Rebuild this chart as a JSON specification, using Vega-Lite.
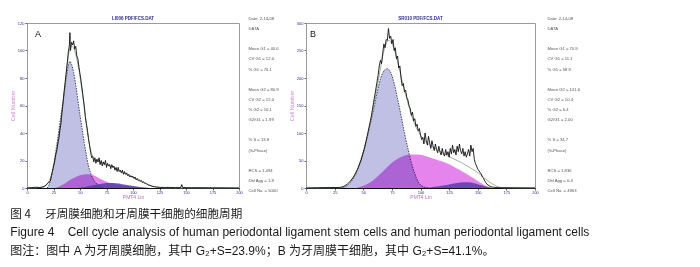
{
"$schema": "https://vega.github.io/schema/vega-lite/v6.json",
"background": "white",
"padding": {"left": 10, "top": 15, "right": 0, "bottom": 0},
"title": {
  "text": "图 4　 牙周膜细胞和牙周膜干细胞的细胞周期",
  "subtitle": ["Figure 4\u00a0\u00a0\u00a0\u00a0Cell cycle analysis of human periodontal ligament stem cells and human periodontal ligament cells", "图注：图中 A 为牙周膜细胞，其中 G₂+S=23.9%；B 为牙周膜干细胞，其中 G₂+S=41.1%。"],
  "orient": "bottom", "anchor": "start", "frame": "bounds", "offset": 9,
  "font": "Noto Sans CJK SC", "fontSize": 11.6, "fontWeight": "normal", "color": "#1a1a1a", "lineHeight": 18,
  "subtitleFont": "Liberation Sans, Noto Sans CJK SC", "subtitleFontSize": 12, "subtitleColor": "#1a1a1a", "subtitleLineHeight": 19, "subtitlePadding": 7
},
"config": {
  "font": "Liberation Sans",
  "view": {"stroke": "#9a9a9a", "strokeWidth": 1},
  "axis": {"grid": false, "tickSize": 2, "tickColor": "#2b2b8c", "tickWidth": 0.8, "labelFontSize": 4, "labelColor": "#2b2b8c", "labelFont": "Liberation Sans", "titleFont": "Liberation Sans", "titleFontWeight": "normal", "labelPadding": 1},
  "axisX": {"domainColor": "#111111", "domainWidth": 1, "labelPadding": 0, "titlePadding": 0, "titleFontSize": 5, "titleColor": "#b36fc9", "labelFlush": false},
  "axisY": {"domainColor": "#9a9a9a", "titlePadding": 1.5, "titleFontSize": 5.5, "titleColor": "#d585d5"}
},
"datasets": {
  "histA": [
    {"channel": 19, "count": 0, "series": "G1"}, {"channel": 22, "count": 5, "series": "G1"}, {"channel": 25, "count": 16, "series": "G1"}, {"channel": 28, "count": 31, "series": "G1"}, {"channel": 31, "count": 47, "series": "G1"}, {"channel": 34, "count": 63, "series": "G1"}, {"channel": 37, "count": 80, "series": "G1"}, {"channel": 39, "count": 89, "series": "G1"}, {"channel": 40.5, "count": 92, "series": "G1"}, {"channel": 42, "count": 90, "series": "G1"}, {"channel": 44, "count": 84, "series": "G1"}, {"channel": 46, "count": 75, "series": "G1"}, {"channel": 48, "count": 64, "series": "G1"}, {"channel": 50, "count": 53, "series": "G1"}, {"channel": 52, "count": 43, "series": "G1"}, {"channel": 54, "count": 33, "series": "G1"}, {"channel": 56, "count": 24, "series": "G1"}, {"channel": 58, "count": 16, "series": "G1"}, {"channel": 60, "count": 11, "series": "G1"}, {"channel": 62, "count": 7, "series": "G1"}, {"channel": 64, "count": 4.5, "series": "G1"}, {"channel": 66, "count": 3, "series": "G1"}, {"channel": 69, "count": 1, "series": "G1"}, {"channel": 72, "count": 0, "series": "G1"},
    {"channel": 26, "count": 0, "series": "S"}, {"channel": 30, "count": 1, "series": "S"}, {"channel": 34, "count": 2.5, "series": "S"}, {"channel": 38, "count": 4.5, "series": "S"}, {"channel": 42, "count": 6.5, "series": "S"}, {"channel": 46, "count": 8, "series": "S"}, {"channel": 50, "count": 9.2, "series": "S"}, {"channel": 54, "count": 9.8, "series": "S"}, {"channel": 58, "count": 10, "series": "S"}, {"channel": 62, "count": 9.4, "series": "S"}, {"channel": 66, "count": 8, "series": "S"}, {"channel": 70, "count": 6.3, "series": "S"}, {"channel": 75, "count": 4.6, "series": "S"}, {"channel": 80, "count": 3.4, "series": "S"}, {"channel": 85, "count": 2.6, "series": "S"}, {"channel": 90, "count": 2, "series": "S"}, {"channel": 95, "count": 1.5, "series": "S"}, {"channel": 100, "count": 1, "series": "S"}, {"channel": 106, "count": 0.6, "series": "S"}, {"channel": 112, "count": 0.2, "series": "S"}, {"channel": 116, "count": 0, "series": "S"},
    {"channel": 48, "count": 0, "series": "G2"}, {"channel": 55, "count": 0.8, "series": "G2"}, {"channel": 60, "count": 1.6, "series": "G2"}, {"channel": 66, "count": 2.6, "series": "G2"}, {"channel": 72, "count": 3.3, "series": "G2"}, {"channel": 78, "count": 3.6, "series": "G2"}, {"channel": 84, "count": 3.4, "series": "G2"}, {"channel": 90, "count": 2.8, "series": "G2"}, {"channel": 96, "count": 2, "series": "G2"}, {"channel": 102, "count": 1.2, "series": "G2"}, {"channel": 108, "count": 0.6, "series": "G2"}, {"channel": 114, "count": 0.2, "series": "G2"}, {"channel": 118, "count": 0, "series": "G2"},
    {"channel": 0, "count": 0, "series": "Fit"}, {"channel": 15, "count": 0.5, "series": "Fit"}, {"channel": 20, "count": 4, "series": "Fit"}, {"channel": 25, "count": 15, "series": "Fit"}, {"channel": 30, "count": 36, "series": "Fit"}, {"channel": 35, "count": 68, "series": "Fit"}, {"channel": 38, "count": 90, "series": "Fit"}, {"channel": 40, "count": 100, "series": "Fit"}, {"channel": 42, "count": 103, "series": "Fit"}, {"channel": 44, "count": 102, "series": "Fit"}, {"channel": 46, "count": 97, "series": "Fit"}, {"channel": 48, "count": 90, "series": "Fit"}, {"channel": 50, "count": 81, "series": "Fit"}, {"channel": 52, "count": 70, "series": "Fit"}, {"channel": 54, "count": 58, "series": "Fit"}, {"channel": 56, "count": 46, "series": "Fit"}, {"channel": 58, "count": 36, "series": "Fit"}, {"channel": 60, "count": 28, "series": "Fit"}, {"channel": 62, "count": 23, "series": "Fit"}, {"channel": 65, "count": 20, "series": "Fit"}, {"channel": 70, "count": 18.5, "series": "Fit"}, {"channel": 75, "count": 17, "series": "Fit"}, {"channel": 80, "count": 15.5, "series": "Fit"}, {"channel": 85, "count": 13.5, "series": "Fit"}, {"channel": 90, "count": 11.5, "series": "Fit"}, {"channel": 95, "count": 9.5, "series": "Fit"}, {"channel": 100, "count": 7.5, "series": "Fit"}, {"channel": 105, "count": 5.5, "series": "Fit"}, {"channel": 110, "count": 3.8, "series": "Fit"}, {"channel": 115, "count": 2.2, "series": "Fit"}, {"channel": 120, "count": 1, "series": "Fit"}, {"channel": 125, "count": 0.4, "series": "Fit"}, {"channel": 130, "count": 0.1, "series": "Fit"}, {"channel": 200, "count": 0, "series": "Fit"},
    {"channel": 0, "count": 0, "series": "Data"}, {"channel": 4, "count": 0.3, "series": "Data"}, {"channel": 8, "count": 0.5, "series": "Data"}, {"channel": 12, "count": 0.4, "series": "Data"}, {"channel": 15, "count": 0.8, "series": "Data"}, {"channel": 17, "count": 1.5, "series": "Data"}, {"channel": 19, "count": 3, "series": "Data"}, {"channel": 21, "count": 4.5, "series": "Data"}, {"channel": 22, "count": 5, "series": "Data"}, {"channel": 23, "count": 9, "series": "Data"}, {"channel": 24, "count": 12, "series": "Data"}, {"channel": 25, "count": 16, "series": "Data"}, {"channel": 26, "count": 19, "series": "Data"}, {"channel": 27, "count": 24, "series": "Data"}, {"channel": 28, "count": 27, "series": "Data"}, {"channel": 29, "count": 32, "series": "Data"}, {"channel": 30, "count": 36, "series": "Data"}, {"channel": 31, "count": 42, "series": "Data"}, {"channel": 32, "count": 47, "series": "Data"}, {"channel": 33, "count": 55, "series": "Data"}, {"channel": 34, "count": 62, "series": "Data"}, {"channel": 35, "count": 70, "series": "Data"}, {"channel": 36, "count": 77, "series": "Data"}, {"channel": 37, "count": 84, "series": "Data"}, {"channel": 38, "count": 91, "series": "Data"}, {"channel": 39, "count": 99, "series": "Data"}, {"channel": 40, "count": 104, "series": "Data"}, {"channel": 40.5, "count": 113, "series": "Data"}, {"channel": 41, "count": 100, "series": "Data"}, {"channel": 42, "count": 106, "series": "Data"}, {"channel": 43, "count": 104, "series": "Data"}, {"channel": 44, "count": 107, "series": "Data"}, {"channel": 45, "count": 101, "series": "Data"}, {"channel": 46, "count": 103, "series": "Data"}, {"channel": 47, "count": 96, "series": "Data"}, {"channel": 48, "count": 94, "series": "Data"}, {"channel": 49, "count": 88, "series": "Data"}, {"channel": 50, "count": 83, "series": "Data"}, {"channel": 51, "count": 78, "series": "Data"}, {"channel": 52, "count": 72, "series": "Data"}, {"channel": 53, "count": 66, "series": "Data"}, {"channel": 54, "count": 60, "series": "Data"}, {"channel": 55, "count": 52, "series": "Data"}, {"channel": 56, "count": 47, "series": "Data"}, {"channel": 57, "count": 42, "series": "Data"}, {"channel": 58, "count": 36, "series": "Data"}, {"channel": 59, "count": 31, "series": "Data"}, {"channel": 60, "count": 26, "series": "Data"}, {"channel": 61, "count": 22, "series": "Data"}, {"channel": 62, "count": 23, "series": "Data"}, {"channel": 63, "count": 19, "series": "Data"}, {"channel": 64, "count": 22, "series": "Data"}, {"channel": 65, "count": 18, "series": "Data"}, {"channel": 66, "count": 21, "series": "Data"}, {"channel": 67, "count": 19, "series": "Data"}, {"channel": 68, "count": 22, "series": "Data"}, {"channel": 69, "count": 17, "series": "Data"}, {"channel": 70, "count": 20, "series": "Data"}, {"channel": 71, "count": 16, "series": "Data"}, {"channel": 72, "count": 19, "series": "Data"}, {"channel": 73, "count": 17, "series": "Data"}, {"channel": 74, "count": 20, "series": "Data"}, {"channel": 75, "count": 15, "series": "Data"}, {"channel": 76, "count": 18, "series": "Data"}, {"channel": 77, "count": 16, "series": "Data"}, {"channel": 78, "count": 17, "series": "Data"}, {"channel": 79, "count": 14, "series": "Data"}, {"channel": 80, "count": 17, "series": "Data"}, {"channel": 81, "count": 15, "series": "Data"}, {"channel": 82, "count": 16, "series": "Data"}, {"channel": 83, "count": 13, "series": "Data"}, {"channel": 84, "count": 15, "series": "Data"}, {"channel": 85, "count": 12, "series": "Data"}, {"channel": 86, "count": 15, "series": "Data"}, {"channel": 87, "count": 12, "series": "Data"}, {"channel": 88, "count": 13, "series": "Data"}, {"channel": 89, "count": 11, "series": "Data"}, {"channel": 90, "count": 13, "series": "Data"}, {"channel": 91, "count": 10, "series": "Data"}, {"channel": 92, "count": 12, "series": "Data"}, {"channel": 93, "count": 10, "series": "Data"}, {"channel": 94, "count": 11, "series": "Data"}, {"channel": 95, "count": 9, "series": "Data"}, {"channel": 96, "count": 10, "series": "Data"}, {"channel": 97, "count": 8, "series": "Data"}, {"channel": 98, "count": 9, "series": "Data"}, {"channel": 99, "count": 8, "series": "Data"}, {"channel": 100, "count": 8.5, "series": "Data"}, {"channel": 101, "count": 7, "series": "Data"}, {"channel": 102, "count": 8, "series": "Data"}, {"channel": 103, "count": 6, "series": "Data"}, {"channel": 104, "count": 7, "series": "Data"}, {"channel": 105, "count": 5.5, "series": "Data"}, {"channel": 106, "count": 6, "series": "Data"}, {"channel": 107, "count": 5, "series": "Data"}, {"channel": 108, "count": 5.5, "series": "Data"}, {"channel": 109, "count": 4, "series": "Data"}, {"channel": 110, "count": 4.5, "series": "Data"}, {"channel": 111, "count": 3.5, "series": "Data"}, {"channel": 112, "count": 3.5, "series": "Data"}, {"channel": 113, "count": 3, "series": "Data"}, {"channel": 114, "count": 2.5, "series": "Data"}, {"channel": 115, "count": 2, "series": "Data"}, {"channel": 116, "count": 2, "series": "Data"}, {"channel": 117, "count": 1.5, "series": "Data"}, {"channel": 118, "count": 1.3, "series": "Data"}, {"channel": 119, "count": 1, "series": "Data"}, {"channel": 120, "count": 1, "series": "Data"}, {"channel": 122, "count": 0.7, "series": "Data"}, {"channel": 125, "count": 0.5, "series": "Data"}, {"channel": 130, "count": 0.4, "series": "Data"}, {"channel": 135, "count": 0.4, "series": "Data"}, {"channel": 140, "count": 0.3, "series": "Data"}, {"channel": 145, "count": 0.3, "series": "Data"}, {"channel": 146, "count": 2.5, "series": "Data"}, {"channel": 147, "count": 0.3, "series": "Data"}, {"channel": 155, "count": 0.2, "series": "Data"}, {"channel": 165, "count": 0.2, "series": "Data"}, {"channel": 175, "count": 0.1, "series": "Data"}, {"channel": 185, "count": 0.1, "series": "Data"}, {"channel": 200, "count": 0, "series": "Data"}
  ],
  "histB": [
    {"channel": 30, "count": 0, "series": "G1"}, {"channel": 35, "count": 3, "series": "G1"}, {"channel": 38, "count": 8, "series": "G1"}, {"channel": 41, "count": 16, "series": "G1"}, {"channel": 44, "count": 28, "series": "G1"}, {"channel": 47, "count": 46, "series": "G1"}, {"channel": 50, "count": 66, "series": "G1"}, {"channel": 53, "count": 89, "series": "G1"}, {"channel": 56, "count": 115, "series": "G1"}, {"channel": 59, "count": 143, "series": "G1"}, {"channel": 62, "count": 172, "series": "G1"}, {"channel": 65, "count": 198, "series": "G1"}, {"channel": 68, "count": 213, "series": "G1"}, {"channel": 71, "count": 217, "series": "G1"}, {"channel": 74, "count": 210, "series": "G1"}, {"channel": 77, "count": 190, "series": "G1"}, {"channel": 80, "count": 162, "series": "G1"}, {"channel": 83, "count": 132, "series": "G1"}, {"channel": 86, "count": 100, "series": "G1"}, {"channel": 89, "count": 72, "series": "G1"}, {"channel": 92, "count": 46, "series": "G1"}, {"channel": 95, "count": 26, "series": "G1"}, {"channel": 98, "count": 11, "series": "G1"}, {"channel": 101, "count": 4, "series": "G1"}, {"channel": 104, "count": 1, "series": "G1"}, {"channel": 107, "count": 0, "series": "G1"},
    {"channel": 44, "count": 0, "series": "S"}, {"channel": 50, "count": 4, "series": "S"}, {"channel": 56, "count": 10, "series": "S"}, {"channel": 62, "count": 20, "series": "S"}, {"channel": 68, "count": 32, "series": "S"}, {"channel": 74, "count": 44, "series": "S"}, {"channel": 80, "count": 53, "series": "S"}, {"channel": 86, "count": 59, "series": "S"}, {"channel": 92, "count": 61, "series": "S"}, {"channel": 98, "count": 61, "series": "S"}, {"channel": 104, "count": 58, "series": "S"}, {"channel": 110, "count": 54, "series": "S"}, {"channel": 116, "count": 50, "series": "S"}, {"channel": 122, "count": 46, "series": "S"}, {"channel": 128, "count": 40, "series": "S"}, {"channel": 134, "count": 33, "series": "S"}, {"channel": 140, "count": 26, "series": "S"}, {"channel": 146, "count": 18, "series": "S"}, {"channel": 152, "count": 10, "series": "S"}, {"channel": 156, "count": 5, "series": "S"}, {"channel": 160, "count": 1.5, "series": "S"}, {"channel": 164, "count": 0, "series": "S"},
    {"channel": 100, "count": 0, "series": "G2"}, {"channel": 108, "count": 1, "series": "G2"}, {"channel": 116, "count": 3, "series": "G2"}, {"channel": 124, "count": 6, "series": "G2"}, {"channel": 132, "count": 9, "series": "G2"}, {"channel": 138, "count": 10.5, "series": "G2"}, {"channel": 144, "count": 10, "series": "G2"}, {"channel": 150, "count": 7, "series": "G2"}, {"channel": 156, "count": 3, "series": "G2"}, {"channel": 162, "count": 0.5, "series": "G2"}, {"channel": 166, "count": 0, "series": "G2"},
    {"channel": 0, "count": 0, "series": "Fit"}, {"channel": 30, "count": 0.5, "series": "Fit"}, {"channel": 35, "count": 3, "series": "Fit"}, {"channel": 40, "count": 14, "series": "Fit"}, {"channel": 45, "count": 34, "series": "Fit"}, {"channel": 50, "count": 62, "series": "Fit"}, {"channel": 55, "count": 105, "series": "Fit"}, {"channel": 60, "count": 158, "series": "Fit"}, {"channel": 64, "count": 205, "series": "Fit"}, {"channel": 67, "count": 240, "series": "Fit"}, {"channel": 70, "count": 262, "series": "Fit"}, {"channel": 72, "count": 268, "series": "Fit"}, {"channel": 74, "count": 266, "series": "Fit"}, {"channel": 77, "count": 252, "series": "Fit"}, {"channel": 80, "count": 230, "series": "Fit"}, {"channel": 83, "count": 204, "series": "Fit"}, {"channel": 86, "count": 178, "series": "Fit"}, {"channel": 89, "count": 154, "series": "Fit"}, {"channel": 92, "count": 133, "series": "Fit"}, {"channel": 95, "count": 116, "series": "Fit"}, {"channel": 98, "count": 103, "series": "Fit"}, {"channel": 101, "count": 93, "series": "Fit"}, {"channel": 104, "count": 86, "series": "Fit"}, {"channel": 108, "count": 78, "series": "Fit"}, {"channel": 112, "count": 73, "series": "Fit"}, {"channel": 116, "count": 68, "series": "Fit"}, {"channel": 120, "count": 63, "series": "Fit"}, {"channel": 124, "count": 58, "series": "Fit"}, {"channel": 128, "count": 54, "series": "Fit"}, {"channel": 132, "count": 50, "series": "Fit"}, {"channel": 136, "count": 46, "series": "Fit"}, {"channel": 140, "count": 41, "series": "Fit"}, {"channel": 144, "count": 36, "series": "Fit"}, {"channel": 148, "count": 31, "series": "Fit"}, {"channel": 152, "count": 25, "series": "Fit"}, {"channel": 156, "count": 18, "series": "Fit"}, {"channel": 160, "count": 11, "series": "Fit"}, {"channel": 164, "count": 6, "series": "Fit"}, {"channel": 168, "count": 2, "series": "Fit"}, {"channel": 172, "count": 0.5, "series": "Fit"}, {"channel": 200, "count": 0, "series": "Fit"},
    {"channel": 0, "count": 0, "series": "Data"}, {"channel": 10, "count": 0.5, "series": "Data"}, {"channel": 20, "count": 0.8, "series": "Data"}, {"channel": 30, "count": 1, "series": "Data"}, {"channel": 33, "count": 3, "series": "Data"}, {"channel": 36, "count": 7, "series": "Data"}, {"channel": 39, "count": 13, "series": "Data"}, {"channel": 42, "count": 22, "series": "Data"}, {"channel": 45, "count": 34, "series": "Data"}, {"channel": 48, "count": 50, "series": "Data"}, {"channel": 51, "count": 72, "series": "Data"}, {"channel": 54, "count": 100, "series": "Data"}, {"channel": 57, "count": 130, "series": "Data"}, {"channel": 59, "count": 155, "series": "Data"}, {"channel": 61, "count": 180, "series": "Data"}, {"channel": 63, "count": 205, "series": "Data"}, {"channel": 64, "count": 222, "series": "Data"}, {"channel": 65, "count": 232, "series": "Data"}, {"channel": 66, "count": 226, "series": "Data"}, {"channel": 67, "count": 245, "series": "Data"}, {"channel": 68, "count": 262, "series": "Data"}, {"channel": 69, "count": 255, "series": "Data"}, {"channel": 70, "count": 270, "series": "Data"}, {"channel": 71, "count": 268, "series": "Data"}, {"channel": 72, "count": 290, "series": "Data"}, {"channel": 73, "count": 272, "series": "Data"}, {"channel": 74, "count": 276, "series": "Data"}, {"channel": 75, "count": 262, "series": "Data"}, {"channel": 76, "count": 270, "series": "Data"}, {"channel": 77, "count": 250, "series": "Data"}, {"channel": 78, "count": 255, "series": "Data"}, {"channel": 79, "count": 235, "series": "Data"}, {"channel": 80, "count": 240, "series": "Data"}, {"channel": 81, "count": 218, "series": "Data"}, {"channel": 82, "count": 222, "series": "Data"}, {"channel": 83, "count": 200, "series": "Data"}, {"channel": 84, "count": 186, "series": "Data"}, {"channel": 85, "count": 190, "series": "Data"}, {"channel": 86, "count": 175, "series": "Data"}, {"channel": 87, "count": 178, "series": "Data"}, {"channel": 88, "count": 165, "series": "Data"}, {"channel": 89, "count": 160, "series": "Data"}, {"channel": 90, "count": 150, "series": "Data"}, {"channel": 91, "count": 145, "series": "Data"}, {"channel": 92, "count": 132, "series": "Data"}, {"channel": 93, "count": 138, "series": "Data"}, {"channel": 94, "count": 122, "series": "Data"}, {"channel": 95, "count": 126, "series": "Data"}, {"channel": 96, "count": 112, "series": "Data"}, {"channel": 97, "count": 116, "series": "Data"}, {"channel": 98, "count": 104, "series": "Data"}, {"channel": 99, "count": 108, "series": "Data"}, {"channel": 100, "count": 96, "series": "Data"}, {"channel": 101, "count": 88, "series": "Data"}, {"channel": 102, "count": 92, "series": "Data"}, {"channel": 103, "count": 80, "series": "Data"}, {"channel": 104, "count": 100, "series": "Data"}, {"channel": 105, "count": 86, "series": "Data"}, {"channel": 106, "count": 78, "series": "Data"}, {"channel": 107, "count": 94, "series": "Data"}, {"channel": 108, "count": 82, "series": "Data"}, {"channel": 109, "count": 72, "series": "Data"}, {"channel": 110, "count": 86, "series": "Data"}, {"channel": 111, "count": 76, "series": "Data"}, {"channel": 112, "count": 68, "series": "Data"}, {"channel": 113, "count": 80, "series": "Data"}, {"channel": 114, "count": 70, "series": "Data"}, {"channel": 115, "count": 64, "series": "Data"}, {"channel": 116, "count": 76, "series": "Data"}, {"channel": 117, "count": 66, "series": "Data"}, {"channel": 118, "count": 60, "series": "Data"}, {"channel": 119, "count": 72, "series": "Data"}, {"channel": 120, "count": 62, "series": "Data"}, {"channel": 121, "count": 58, "series": "Data"}, {"channel": 122, "count": 70, "series": "Data"}, {"channel": 123, "count": 60, "series": "Data"}, {"channel": 124, "count": 66, "series": "Data"}, {"channel": 125, "count": 56, "series": "Data"}, {"channel": 126, "count": 72, "series": "Data"}, {"channel": 127, "count": 62, "series": "Data"}, {"channel": 128, "count": 78, "series": "Data"}, {"channel": 129, "count": 64, "series": "Data"}, {"channel": 130, "count": 70, "series": "Data"}, {"channel": 131, "count": 60, "series": "Data"}, {"channel": 132, "count": 76, "series": "Data"}, {"channel": 133, "count": 66, "series": "Data"}, {"channel": 134, "count": 80, "series": "Data"}, {"channel": 135, "count": 68, "series": "Data"}, {"channel": 136, "count": 62, "series": "Data"}, {"channel": 137, "count": 72, "series": "Data"}, {"channel": 138, "count": 58, "series": "Data"}, {"channel": 139, "count": 66, "series": "Data"}, {"channel": 140, "count": 56, "series": "Data"}, {"channel": 141, "count": 62, "series": "Data"}, {"channel": 142, "count": 70, "series": "Data"}, {"channel": 143, "count": 58, "series": "Data"}, {"channel": 144, "count": 78, "series": "Data"}, {"channel": 145, "count": 66, "series": "Data"}, {"channel": 146, "count": 72, "series": "Data"}, {"channel": 147, "count": 52, "series": "Data"}, {"channel": 148, "count": 44, "series": "Data"}, {"channel": 149, "count": 40, "series": "Data"}, {"channel": 150, "count": 34, "series": "Data"}, {"channel": 151, "count": 32, "series": "Data"}, {"channel": 152, "count": 28, "series": "Data"}, {"channel": 153, "count": 26, "series": "Data"}, {"channel": 154, "count": 20, "series": "Data"}, {"channel": 155, "count": 18, "series": "Data"}, {"channel": 156, "count": 13, "series": "Data"}, {"channel": 157, "count": 10, "series": "Data"}, {"channel": 158, "count": 7, "series": "Data"}, {"channel": 160, "count": 4, "series": "Data"}, {"channel": 162, "count": 2, "series": "Data"}, {"channel": 165, "count": 1, "series": "Data"}, {"channel": 170, "count": 0.5, "series": "Data"}, {"channel": 180, "count": 0.3, "series": "Data"}, {"channel": 190, "count": 0.2, "series": "Data"}, {"channel": 200, "count": 0, "series": "Data"}
  ],
  "statsA": [
    {"line": 1, "text": "Date: 2-14-08"}, {"line": 2, "text": "   DATA"}, {"line": 3, "text": " "}, {"line": 4, "text": "Mean G1 = 40.6"}, {"line": 5, "text": "CV G1 = 12.0"}, {"line": 6, "text": "% G1 = 76.1"}, {"line": 7, "text": " "}, {"line": 8, "text": "Mean G2 = 80.9"}, {"line": 9, "text": "CV G2 = 12.0"}, {"line": 10, "text": "% G2 = 10.1"}, {"line": 11, "text": "G2/G1 = 1.99"}, {"line": 12, "text": " "}, {"line": 13, "text": "% S = 13.8"}, {"line": 14, "text": "(S-Phase)"}, {"line": 15, "text": " "}, {"line": 16, "text": "RCS = 1.494"}, {"line": 17, "text": "Dbl Agg = 1.8"}, {"line": 18, "text": "Cell No. = 5000"}
  ],
  "statsB": [
    {"line": 1, "text": "Date: 2-14-08"}, {"line": 2, "text": "   DATA"}, {"line": 3, "text": " "}, {"line": 4, "text": "Mean G1 = 70.9"}, {"line": 5, "text": "CV G1 = 11.1"}, {"line": 6, "text": "% G1 = 58.9"}, {"line": 7, "text": " "}, {"line": 8, "text": "Mean G2 = 141.6"}, {"line": 9, "text": "CV G2 = 10.4"}, {"line": 10, "text": "% G2 = 6.4"}, {"line": 11, "text": "G2/G1 = 2.00"}, {"line": 12, "text": " "}, {"line": 13, "text": "% S = 34.7"}, {"line": 14, "text": "(S-Phase)"}, {"line": 15, "text": " "}, {"line": 16, "text": "RCS = 1.836"}, {"line": 17, "text": "Dbl Agg = 0.4"}, {"line": 18, "text": "Cell No. = 4963"}
  ],
  "labelA": [{"label": "A"}],
  "labelB": [{"label": "B"}]
},
"hconcat": [
  {
    "hconcat": [
      {
        "width": 212, "height": 165,
        "title": {"text": "LI006 PDF/FCS.DAT", "fontSize": 4.5, "color": "#2b2b8c", "offset": 1, "fontWeight": "bold", "font": "Liberation Sans"},
        "layer": [
          {"data": {"name": "histA"}, "transform": [{"filter": "datum.series === 'G1'"}], "mark": {"type": "area", "color": "#a5a5d9", "interpolate": "monotone", "line": {"color": "#1a1a40", "strokeDash": [1.5, 1.2], "strokeWidth": 0.8}},
           "encoding": {"x": {"field": "channel", "type": "quantitative", "scale": {"domain": [0, 200], "nice": false}, "axis": {"values": [0, 25, 50, 75, 100, 125, 150, 175, 200], "title": "PMT4 Lin"}}, "y": {"field": "count", "type": "quantitative", "scale": {"domain": [0, 120], "nice": false}, "axis": {"values": [0, 20, 40, 60, 80, 100, 120], "title": "Cell Number"}}}},
          {"data": {"name": "histA"}, "transform": [{"filter": "datum.series === 'S'"}], "mark": {"type": "area", "color": "#e584ec", "interpolate": "monotone", "blend": "multiply"},
           "encoding": {"x": {"field": "channel", "type": "quantitative", "scale": {"domain": [0, 200], "nice": false}, "axis": {"values": [0, 25, 50, 75, 100, 125, 150, 175, 200], "title": "PMT4 Lin"}}, "y": {"field": "count", "type": "quantitative", "scale": {"domain": [0, 120], "nice": false}, "axis": {"values": [0, 20, 40, 60, 80, 100, 120], "title": "Cell Number"}}}},
          {"data": {"name": "histA"}, "transform": [{"filter": "datum.series === 'G2'"}], "mark": {"type": "area", "color": "#4a3aa8", "opacity": 0.8, "interpolate": "monotone"},
           "encoding": {"x": {"field": "channel", "type": "quantitative", "scale": {"domain": [0, 200], "nice": false}, "axis": {"values": [0, 25, 50, 75, 100, 125, 150, 175, 200], "title": "PMT4 Lin"}}, "y": {"field": "count", "type": "quantitative", "scale": {"domain": [0, 120], "nice": false}, "axis": {"values": [0, 20, 40, 60, 80, 100, 120], "title": "Cell Number"}}}},
          {"data": {"name": "histA"}, "transform": [{"filter": "datum.series === 'Fit'"}], "mark": {"type": "line", "color": "#86a086", "strokeWidth": 0.8, "interpolate": "monotone"},
           "encoding": {"x": {"field": "channel", "type": "quantitative", "scale": {"domain": [0, 200], "nice": false}, "axis": {"values": [0, 25, 50, 75, 100, 125, 150, 175, 200], "title": "PMT4 Lin"}}, "y": {"field": "count", "type": "quantitative", "scale": {"domain": [0, 120], "nice": false}, "axis": {"values": [0, 20, 40, 60, 80, 100, 120], "title": "Cell Number"}}}},
          {"data": {"name": "histA"}, "transform": [{"filter": "datum.series === 'Data'"}], "mark": {"type": "line", "color": "#111111", "strokeWidth": 0.9},
           "encoding": {"x": {"field": "channel", "type": "quantitative", "scale": {"domain": [0, 200], "nice": false}, "axis": {"values": [0, 25, 50, 75, 100, 125, 150, 175, 200], "title": "PMT4 Lin"}}, "y": {"field": "count", "type": "quantitative", "scale": {"domain": [0, 120], "nice": false}, "axis": {"values": [0, 20, 40, 60, 80, 100, 120], "title": "Cell Number"}}}},
          {"data": {"name": "labelA"}, "mark": {"type": "text", "align": "left", "baseline": "middle", "fontSize": 9, "color": "#111111", "font": "Liberation Sans"},
           "encoding": {"x": {"datum": 7.5, "type": "quantitative", "scale": {"domain": [0, 200], "nice": false}, "axis": {"values": [0, 25, 50, 75, 100, 125, 150, 175, 200], "title": "PMT4 Lin"}}, "y": {"datum": 112, "type": "quantitative", "scale": {"domain": [0, 120], "nice": false}, "axis": {"values": [0, 20, 40, 60, 80, 100, 120], "title": "Cell Number"}}, "text": {"field": "label", "type": "nominal"}}}
        ]
      },
      {
        "width": 1, "height": 165,
        "view": {"stroke": null},
        "data": {"name": "statsA"},
        "mark": {"type": "text", "align": "left", "baseline": "middle", "fontSize": 4.2, "color": "#555555"},
        "encoding": {"y": {"field": "line", "type": "ordinal", "axis": null, "scale": {"range": [-4, 168], "padding": 0}}, "text": {"field": "text"}}
      }
    ],
    "spacing": 5
  },
  {
    "hconcat": [
      {
        "width": 229, "height": 165,
        "title": {"text": "SR010 PDF/FCS.DAT", "fontSize": 4.5, "color": "#2b2b8c", "offset": 1, "fontWeight": "bold", "font": "Liberation Sans"},
        "layer": [
          {"data": {"name": "histB"}, "transform": [{"filter": "datum.series === 'G1'"}], "mark": {"type": "area", "color": "#a5a5d9", "interpolate": "monotone", "line": {"color": "#1a1a40", "strokeDash": [1.5, 1.2], "strokeWidth": 0.8}},
           "encoding": {"x": {"field": "channel", "type": "quantitative", "scale": {"domain": [0, 200], "nice": false}, "axis": {"values": [0, 25, 50, 75, 100, 125, 150, 175, 200], "title": "PMT4 Lin"}}, "y": {"field": "count", "type": "quantitative", "scale": {"domain": [0, 300], "nice": false}, "axis": {"values": [0, 50, 100, 150, 200, 250, 300], "title": "Cell Number"}}}},
          {"data": {"name": "histB"}, "transform": [{"filter": "datum.series === 'S'"}], "mark": {"type": "area", "color": "#e584ec", "interpolate": "monotone", "blend": "multiply"},
           "encoding": {"x": {"field": "channel", "type": "quantitative", "scale": {"domain": [0, 200], "nice": false}, "axis": {"values": [0, 25, 50, 75, 100, 125, 150, 175, 200], "title": "PMT4 Lin"}}, "y": {"field": "count", "type": "quantitative", "scale": {"domain": [0, 300], "nice": false}, "axis": {"values": [0, 50, 100, 150, 200, 250, 300], "title": "Cell Number"}}}},
          {"data": {"name": "histB"}, "transform": [{"filter": "datum.series === 'G2'"}], "mark": {"type": "area", "color": "#4a3aa8", "opacity": 0.8, "interpolate": "monotone"},
           "encoding": {"x": {"field": "channel", "type": "quantitative", "scale": {"domain": [0, 200], "nice": false}, "axis": {"values": [0, 25, 50, 75, 100, 125, 150, 175, 200], "title": "PMT4 Lin"}}, "y": {"field": "count", "type": "quantitative", "scale": {"domain": [0, 300], "nice": false}, "axis": {"values": [0, 50, 100, 150, 200, 250, 300], "title": "Cell Number"}}}},
          {"data": {"name": "histB"}, "transform": [{"filter": "datum.series === 'Fit'"}], "mark": {"type": "line", "color": "#86a086", "strokeWidth": 0.8, "interpolate": "monotone"},
           "encoding": {"x": {"field": "channel", "type": "quantitative", "scale": {"domain": [0, 200], "nice": false}, "axis": {"values": [0, 25, 50, 75, 100, 125, 150, 175, 200], "title": "PMT4 Lin"}}, "y": {"field": "count", "type": "quantitative", "scale": {"domain": [0, 300], "nice": false}, "axis": {"values": [0, 50, 100, 150, 200, 250, 300], "title": "Cell Number"}}}},
          {"data": {"name": "histB"}, "transform": [{"filter": "datum.series === 'Data'"}], "mark": {"type": "line", "color": "#111111", "strokeWidth": 0.9},
           "encoding": {"x": {"field": "channel", "type": "quantitative", "scale": {"domain": [0, 200], "nice": false}, "axis": {"values": [0, 25, 50, 75, 100, 125, 150, 175, 200], "title": "PMT4 Lin"}}, "y": {"field": "count", "type": "quantitative", "scale": {"domain": [0, 300], "nice": false}, "axis": {"values": [0, 50, 100, 150, 200, 250, 300], "title": "Cell Number"}}}},
          {"data": {"name": "labelB"}, "mark": {"type": "text", "align": "left", "baseline": "middle", "fontSize": 9, "color": "#111111", "font": "Liberation Sans"},
           "encoding": {"x": {"datum": 3.5, "type": "quantitative", "scale": {"domain": [0, 200], "nice": false}, "axis": {"values": [0, 25, 50, 75, 100, 125, 150, 175, 200], "title": "PMT4 Lin"}}, "y": {"datum": 280, "type": "quantitative", "scale": {"domain": [0, 300], "nice": false}, "axis": {"values": [0, 50, 100, 150, 200, 250, 300], "title": "Cell Number"}}, "text": {"field": "label", "type": "nominal"}}}
        ]
      },
      {
        "width": 1, "height": 165,
        "view": {"stroke": null},
        "data": {"name": "statsB"},
        "mark": {"type": "text", "align": "left", "baseline": "middle", "fontSize": 4.2, "color": "#555555"},
        "encoding": {"y": {"field": "line", "type": "ordinal", "axis": null, "scale": {"range": [-4, 168], "padding": 0}}, "text": {"field": "text"}}
      }
    ],
    "spacing": 8
  }
],
"spacing": 10
}
